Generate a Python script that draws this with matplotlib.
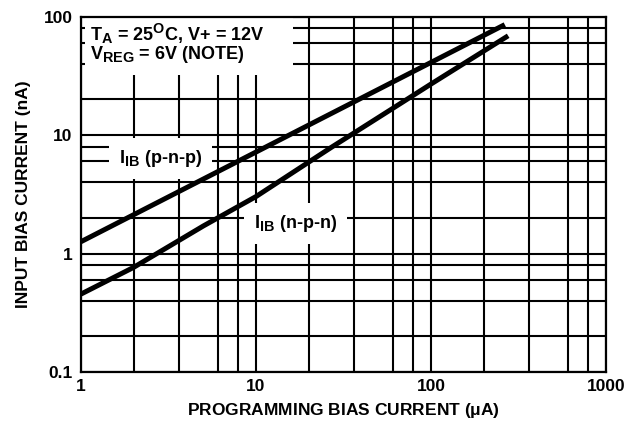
import matplotlib
matplotlib.use("Agg")
import matplotlib.pyplot as plt
from matplotlib.patches import Rectangle
try:
    import matplotlib._mathtext as _mt
    _mt.SHRINK_FACTOR = 0.8
except Exception:
    pass

plt.rcParams['font.family'] = ['Liberation Sans', 'DejaVu Sans']
plt.rcParams['font.weight'] = 'bold'
plt.rcParams['mathtext.fontset'] = 'custom'
plt.rcParams['mathtext.bf'] = 'Liberation Sans:bold'
plt.rcParams['mathtext.rm'] = 'Liberation Sans:bold'
plt.rcParams['mathtext.it'] = 'Liberation Sans:bold'

# Data
pnp_x = [1, 264]
pnp_y = [1.26, 85.7]
npn_x = [1, 2, 5, 10, 27, 60, 100, 276]
npn_y = [0.455, 0.765, 1.71, 3.03, 7.9, 16.7, 27, 69]

x_major = [1, 10, 100, 1000]
x_major_labels = ['1', '10', '100', '1000']
y_major = [0.1, 1, 10, 100]
y_major_labels = ['0.1', '1', '10', '100']
x_minor_factors = [2, 3.65, 6.1, 7.9]
y_minor_factors = [2, 4, 6, 8]

FS = 12.5

fig = plt.figure(figsize=(6.3, 4.25), dpi=100)
ax = fig.add_axes([81/630, 1-372/425, (606-81)/630, (372-16.7)/425])
ax.set_xscale('log')
ax.set_yscale('log')
ax.set_xlim(1, 1000)
ax.set_ylim(0.1, 100)

ax.set_xticks(x_major)
ax.set_xticklabels(x_major_labels)
ax.set_yticks(y_major)
ax.set_yticklabels(y_major_labels)
ax.set_xticks([f*d for d in x_major[:-1] for f in x_minor_factors], minor=True)
ax.set_yticks([f*d for d in y_major[:-1] for f in y_minor_factors], minor=True)
ax.set_xticklabels([], minor=True)
ax.set_yticklabels([], minor=True)
ax.tick_params(which='both', length=0)
ax.tick_params(axis='x', which='major', pad=5, labelsize=FS)
ax.tick_params(axis='y', which='major', pad=6, labelsize=FS)
for lab in ax.get_xticklabels() + ax.get_yticklabels():
    lab.set_fontweight('bold')
ax.grid(True, which='both', color='black', linewidth=1.5)
ax.set_axisbelow(True)
for s in ax.spines.values():
    s.set_linewidth(1.6)
    s.set_zorder(5)

ax.plot(pnp_x, pnp_y, color='black', lw=3.6, solid_capstyle='butt', zorder=3)
ax.plot(npn_x, npn_y, color='black', lw=3.6, solid_capstyle='butt', zorder=3)

ax.set_xlabel(r'PROGRAMMING BIAS CURRENT ($\mathbf{\mu}$A)', fontsize=FS,
              fontweight='bold', labelpad=5)
ax.set_ylabel('INPUT BIAS CURRENT (nA)', fontsize=FS, fontweight='bold',
              labelpad=9)

# condition box
ax.add_patch(Rectangle((0.0076, 0.836), 0.396, 0.17, transform=ax.transAxes,
                       facecolor='white', edgecolor='none', zorder=2))
ax.text(0.017, 0.952, r'T$_\mathbf{A}$ = 25$^\mathbf{O}$C, V+ = 12V',
        transform=ax.transAxes, fontsize=13, fontweight='bold',
        va='center', ha='left', zorder=4)
ax.text(0.017, 0.893, r'V$_\mathbf{REG}$ = 6V (NOTE)',
        transform=ax.transAxes, fontsize=13, fontweight='bold',
        va='center', ha='left', zorder=4)

bb = dict(boxstyle='square,pad=0.55', facecolor='white', edgecolor='none')
ax.text(2.85, 6.4, r'I$_\mathbf{IB}$ (p-n-p)', fontsize=13, fontweight='bold',
        ha='center', va='center', bbox=bb, zorder=2)
ax.text(16.8, 1.8, r'I$_\mathbf{IB}$ (n-p-n)', fontsize=13, fontweight='bold',
        ha='center', va='center', bbox=bb, zorder=2)

fig.savefig('out.png', dpi=100)
